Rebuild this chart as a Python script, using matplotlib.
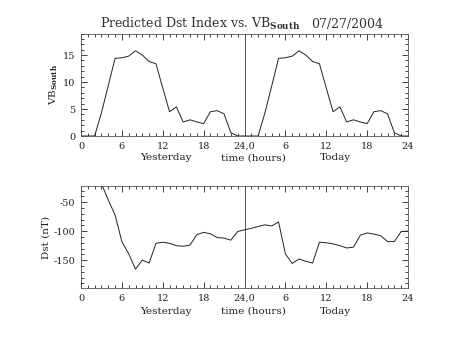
import matplotlib
matplotlib.use("Agg")
import matplotlib.pyplot as plt
from matplotlib.ticker import MultipleLocator

plt.rcParams['font.family'] = ['DejaVu Serif']
plt.rcParams['mathtext.fontset'] = 'dejavuserif'
plt.rcParams['axes.unicode_minus'] = False

# ---- data (hours 0..48, yesterday then today) ----
hours = list(range(49))
vb_yesterday = [0.0, 0.0, 0.0, 4.3, 9.3, 14.4, 14.5, 14.8, 15.8, 15.0, 13.8, 13.4,
                8.9, 4.5, 5.4, 2.6, 3.0, 2.6, 2.3, 4.5, 4.7, 4.1, 0.6, 0.0]
vb_today = [0.0, 0.0, 0.0, 4.3, 9.3, 14.4, 14.5, 14.8, 15.8, 15.0, 13.8, 13.4,
            8.9, 4.5, 5.4, 2.6, 3.0, 2.6, 2.3, 4.5, 4.7, 4.1, 0.6, 0.0, 0.0]
dst_yesterday = [-2, -6, -11, -18, -46, -72, -118, -139, -165.5, -150, -155, -121,
                 -119, -121, -125, -126, -124, -106, -102, -104.6, -111, -112, -115.5, -100.5]
dst_today = [-97.7, -95, -92, -89, -91, -84, -139, -155.7, -148, -152, -155, -119,
             -120, -122, -125, -129, -127.6, -107, -103, -105, -108, -118, -118, -100.5, -100]
vb = vb_yesterday + vb_today
dst = dst_yesterday + dst_today

xtick_vals = [0, 6, 12, 18, 24, 30, 36, 42, 48]
xtick_labels = ['0', '6', '12', '18', '24,0', '6', '12', '18', '24']
vb_ticks = [0, 5, 10, 15]
dst_ticks = [-150, -100, -50]

W, H = 453, 340
fig = plt.figure(figsize=(W / 100, H / 100), dpi=100)
ax1 = fig.add_axes([81 / W, 1 - 136 / H, 327 / W, 102.5 / H])
ax2 = fig.add_axes([81 / W, 1 - 288.3 / H, 327 / W, 102.3 / H])

lc = '#222222'
for ax in (ax1, ax2):
    ax.set_xlim(0, 48)
    ax.set_xticks(xtick_vals)
    ax.set_xticklabels(xtick_labels)
    ax.xaxis.set_minor_locator(MultipleLocator(1))
    ax.tick_params(which='both', direction='in', top=True, right=True,
                   labelsize=7, colors=lc, width=0.6, pad=4)
    ax.tick_params(which='major', length=4)
    ax.tick_params(which='minor', length=2)
    for s in ax.spines.values():
        s.set_linewidth(0.6)
        s.set_color('#555555')
    ax.axvline(24, color='#555555', lw=0.7)

ax1.plot(hours, vb, color=lc, lw=0.7)
ax1.set_ylim(0, 19)
ax1.set_yticks(vb_ticks)
ax1.yaxis.set_minor_locator(MultipleLocator(1))

ax2.plot(hours, dst, color=lc, lw=0.7)
ax2.set_ylim(-198.6, -22)
ax2.set_yticks(dst_ticks)
ax2.yaxis.set_minor_locator(MultipleLocator(10))

ax1.set_ylabel(r'VB$_{\mathbf{South}}$', fontsize=7.5, color=lc, labelpad=2)
ax2.set_ylabel('Dst (nT)', fontsize=7.5, color=lc, labelpad=2)

for ytxt in (158, 311):
    fig.text(166 / W, 1 - ytxt / H, 'Yesterday', ha='center', va='center', fontsize=7.5, color=lc)
    fig.text(253 / W, 1 - ytxt / H, 'time (hours)', ha='center', va='center', fontsize=7.5, color=lc)
    fig.text(335 / W, 1 - ytxt / H, 'Today', ha='center', va='center', fontsize=7.5, color=lc)

fig.text(100 / W, 1 - 28 / H, r'Predicted Dst Index vs. VB$_{\mathbf{South}}$',
         ha='left', va='baseline', fontsize=9, color='#333333')
fig.text(383 / W, 1 - 28 / H, '07/27/2004', ha='right', va='baseline', fontsize=9, color='#333333')

fig.savefig('out.png', dpi=100)
